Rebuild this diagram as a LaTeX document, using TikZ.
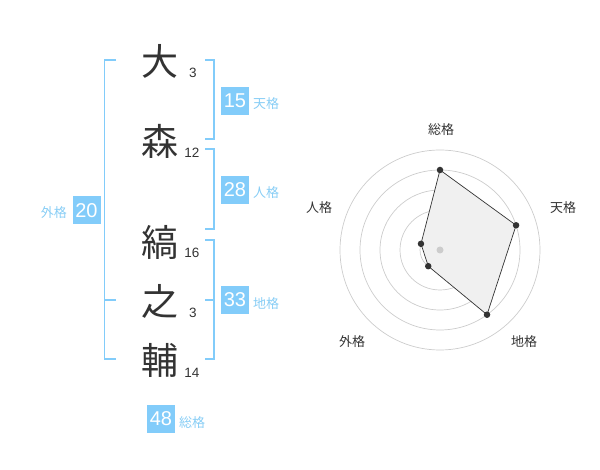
\documentclass[tikz,border=0pt]{standalone}
\usepackage{fontspec}
\setmainfont{Liberation Sans}
\newfontfamily\jp{Noto Sans CJK JP}
\definecolor{bk}{RGB}{130,204,250}
\definecolor{lbl}{RGB}{135,205,245}
\definecolor{ink}{RGB}{51,51,51}
\definecolor{ring}{RGB}{204,204,204}
\definecolor{area}{RGB}{240,240,240}
\begin{document}
\begin{tikzpicture}[x=1pt,y=-1pt,
  kanji/.style={font=\jp\fontsize{37}{37}\selectfont, text=ink, inner sep=0pt},
  strk/.style={font=\fontsize{13.5}{13.5}\selectfont, text=ink, inner sep=0pt},
  kbox/.style={fill=bk, text=white, minimum size=28pt, inner sep=0pt, font=\fontsize{20}{20}\selectfont},
  klbl/.style={font=\jp\fontsize{13}{13}\selectfont, text=lbl, inner sep=0pt},
  brk/.style={draw=bk, line width=1.6pt},
  axl/.style={font=\jp\fontsize{13}{13}\selectfont, text=ink, inner sep=0pt},
  dot/.style={circle, fill=ink, inner sep=0pt, minimum size=6.5pt}]
\path[use as bounding box] (0,0) rectangle (600,470);

% characters
\node[kanji] (k1) at (160,61) {大};
\node[kanji] (k2) at (160,141) {森};
\node[kanji] (k3) at (160,242) {縞};
\node[kanji] (k4) at (160,301) {之};
\node[kanji] (k5) at (160,360) {輔};
\node[strk] (n1) at (193,73) {3};
\node[strk] (n2) at (192,153) {12};
\node[strk] (n3) at (192,253) {16};
\node[strk] (n4) at (193,313) {3};
\node[strk] (n5) at (192,373) {14};

% brackets
\coordinate (lt) at (104.5,60);
\coordinate (lb) at (104.5,359);
\draw[brk] (116,60) -- (lt) -- (lb) -- (116,359);
\draw[brk] (104.5,300) -- (116,300);
\draw[brk] (205,60) -- (214,60) -- (214,139) -- (205,139);
\draw[brk] (205,149) -- (214,149) -- (214,229) -- (205,229);
\draw[brk] (205,240) -- (214,240) -- (214,359) -- (205,359);
\draw[brk] (205,300) -- (214,300);

% boxes and labels
\node[kbox] (b0) at (86.5,210.5) {20};
\node[klbl, anchor=east] (l0) at (67,213) {外格};
\node[kbox] (b1) at (235,101) {15};
\node[klbl, anchor=west] (l1) at (253,103.5) {天格};
\node[kbox] (b2) at (235,190) {28};
\node[klbl, anchor=west] (l2) at (253,193) {人格};
\node[kbox] (b3) at (235,300) {33};
\node[klbl, anchor=west] (l3) at (253,303.5) {地格};
\node[kbox] (b4) at (161,419) {48};
\node[klbl, anchor=west] (l4) at (179,422.5) {総格};

% radar
\coordinate (c) at (440,250);
\foreach \r in {20,40,60,80,100}
  \draw[ring, line width=0.7pt] (c) circle[radius=\r];
\begin{scope}[shift={(440,250)}]
  \coordinate (p1) at (90:80pt);
  \coordinate (p2) at (18:80pt);
  \coordinate (p3) at (-54:80pt);
  \coordinate (p4) at (-126:20pt);
  \coordinate (p5) at (162:20pt);
\end{scope}
\fill[area] (p1) -- (p2) -- (p3) -- (p4) -- (p5) -- cycle;
\draw[ink, line width=0.7pt] (p1) -- (p2) -- (p3) -- (p4) -- (p5) -- cycle;
\node[circle, fill=ring, inner sep=0pt, minimum size=7pt] (cd) at (c) {};
\foreach \p in {p1,p2,p3,p4,p5} \node[dot] at (\p) {};

\node[axl] (a1) at (441,130) {総格};
\node[axl] (a2) at (563,208) {天格};
\node[axl] (a3) at (524,342) {地格};
\node[axl] (a4) at (352,342) {外格};
\node[axl] (a5) at (319,208) {人格};
\end{tikzpicture}
\end{document}
